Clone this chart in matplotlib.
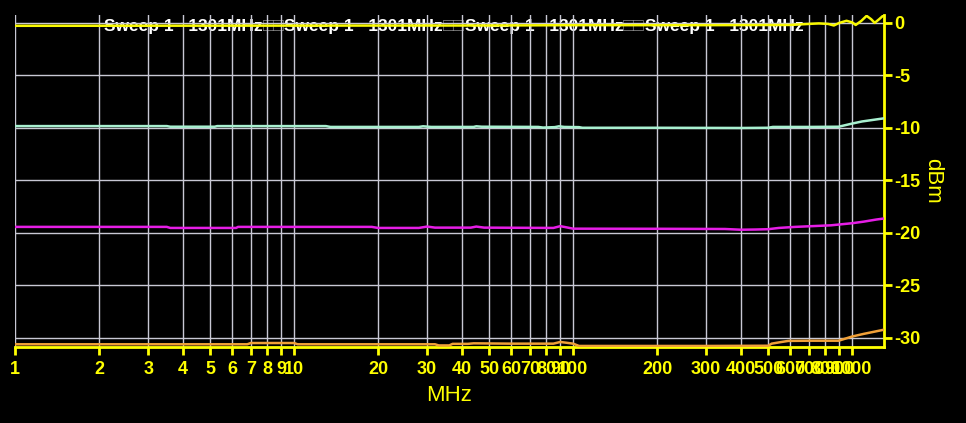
import matplotlib
matplotlib.use("Agg")
import matplotlib.pyplot as plt
from matplotlib.offsetbox import TextArea, HPacker, AnchoredOffsetbox

# ---------------- data ----------------
yellow_f = [1, 50, 100, 300, 600, 700, 760, 820, 860, 900, 955, 1000, 1030, 1080, 1127, 1170, 1205, 1250, 1301]
yellow_v = [-0.28, -0.25, -0.22, -0.22, -0.2, -0.1, -0.05, -0.1, -0.25, 0.0, 0.2, 0.05, -0.2, 0.2, 0.67, 0.35, 0.0, 0.35, 0.76]

cyan_f = [1, 3.5, 3.6, 5.2, 5.3, 13, 13.5, 28, 29, 31, 44, 45, 47, 75, 78, 86, 89, 93, 105, 108, 200, 400, 500, 520, 700, 895, 1000, 1085, 1301]
cyan_v = [-9.84, -9.84, -9.9, -9.9, -9.84, -9.84, -9.92, -9.92, -9.86, -9.92, -9.92, -9.86, -9.9, -9.92, -9.98, -9.94, -9.86, -9.92, -9.94, -10.0, -10.0, -10.02, -10.0, -9.92, -9.92, -9.9, -9.6, -9.4, -9.1]

magenta_f = [1, 3.5, 3.6, 6.2, 6.3, 19, 20, 28, 30, 32, 43, 45, 48, 85, 90, 95, 100, 200, 350, 400, 450, 500, 546, 625, 840, 1000, 1100, 1220, 1301]
magenta_v = [-19.45, -19.45, -19.55, -19.55, -19.45, -19.45, -19.55, -19.55, -19.42, -19.52, -19.52, -19.42, -19.52, -19.55, -19.38, -19.5, -19.62, -19.63, -19.65, -19.72, -19.7, -19.67, -19.55, -19.45, -19.3, -19.1, -18.95, -18.75, -18.65]

orange_f = [1, 6.8, 7.0, 10, 10.3, 32, 33, 36, 37, 42, 44, 60, 85, 90, 95, 100, 105, 200, 300, 500, 515, 550, 590, 700, 895, 1000, 1100, 1301]
orange_v = [-30.64, -30.64, -30.52, -30.52, -30.64, -30.64, -30.75, -30.75, -30.6, -30.6, -30.55, -30.58, -30.58, -30.42, -30.5, -30.58, -30.8, -30.8, -30.8, -30.78, -30.58, -30.45, -30.32, -30.3, -30.3, -29.9, -29.65, -29.25]

x_ticks = [1, 2, 3, 4, 5, 6, 7, 8, 9, 10, 20, 30, 40, 50, 60, 70, 80, 90, 100,
           200, 300, 400, 500, 600, 700, 800, 900, 1000]
x_tick_labels = [str(t) for t in x_ticks]
y_ticks = [0, -5, -10, -15, -20, -25, -30]
y_tick_labels = [str(t) for t in y_ticks]
legend_labels = ["Sweep 1   1301MHz"] * 4
x_label = "MHz"
y_label = "dBm"

# ---------------- figure ----------------
W, H = 966, 423
fig = plt.figure(figsize=(W / 100, H / 100), dpi=100, facecolor="black")
ax = fig.add_axes([15 / W, (H - 347) / H, (884 - 15) / W, (347 - 15) / H])
ax.set_facecolor("black")

FONT = "Liberation Sans"
YEL = "#ffff00"
lw = 1.8
ax.plot(orange_f, orange_v, color="#f0a038", lw=lw, zorder=3)
ax.plot(magenta_f, magenta_v, color="#e61ee6", lw=lw, zorder=3)
ax.plot(cyan_f, cyan_v, color="#a8f0d0", lw=lw, zorder=3)
ax.plot(yellow_f, yellow_v, color="#f8f800", lw=lw, zorder=3)

ax.set_xscale("log")
ax.set_xlim(1, 1301)
ax.set_ylim(-30.9, 0.75)
ax.yaxis.tick_right()
ax.yaxis.set_label_position("right")

ax.set_xticks(x_ticks)
ax.set_xticklabels(x_tick_labels)
ax.xaxis.set_minor_locator(matplotlib.ticker.NullLocator())
ax.set_yticks(y_ticks)
ax.set_yticklabels(y_tick_labels)

ax.tick_params(axis="both", colors=YEL, length=6, width=2, direction="out",
               labelsize=13)
ax.tick_params(axis="x", pad=4)
ax.tick_params(axis="y", pad=1.5)
for lab in ax.get_xticklabels() + ax.get_yticklabels():
    lab.set_fontfamily(FONT)
    lab.set_fontweight("bold")
    lab.set_color(YEL)

ax.grid(True, color="#c8c8d4", lw=1.0)

for s in ["left", "top"]:
    ax.spines[s].set_visible(False)
for s in ["bottom", "right"]:
    ax.spines[s].set_color(YEL)
    ax.spines[s].set_linewidth(2)

ax.set_xlabel(x_label, color=YEL, fontsize=16, family=FONT, labelpad=5)
ax.set_ylabel(y_label, color=YEL, fontsize=16, family=FONT, rotation=270,
              labelpad=16)

# legend-like header
pieces = []
for i, lab in enumerate(legend_labels):
    pieces.append(TextArea(lab, textprops=dict(color="white", fontsize=12.5,
                                               fontweight="bold", family=FONT)))
    if i < len(legend_labels) - 1:
        pieces.append(TextArea("\u25a1\u25a1", textprops=dict(color="#8a8a8a", fontsize=13,
                                                              family=FONT)))
pack = HPacker(children=pieces, align="baseline", pad=0, sep=0)
anch = AnchoredOffsetbox(loc="upper left", child=pack, frameon=False,
                         bbox_to_anchor=(104 / W, (H - 18) / H),
                         bbox_transform=fig.transFigure, borderpad=0, pad=0)
anch.set_zorder(0.5)
ax.add_artist(anch)

fig.savefig("out.png", dpi=100, facecolor="black")
